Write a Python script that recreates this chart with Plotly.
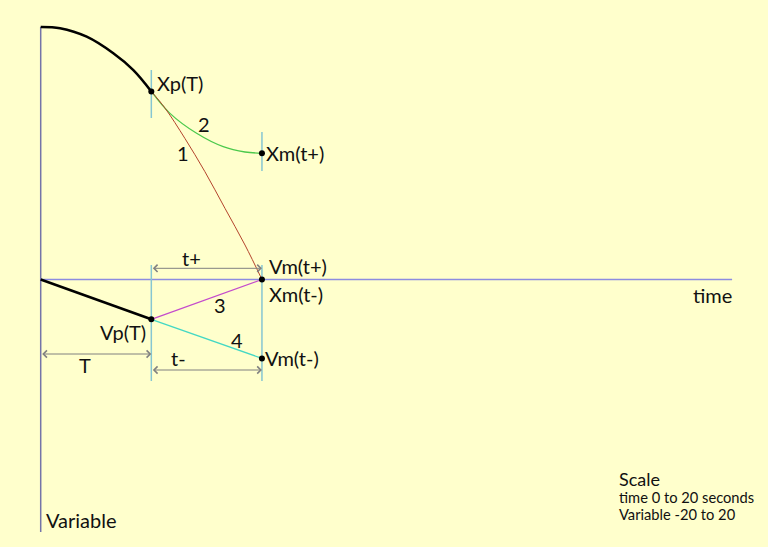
import plotly.graph_objects as go

W, H = 768, 547
# pixel calibration of the drawing (used only to place text/guides)
X0_PX, X_SCALE = 40.7, 34.57
Y0_PX, Y_SCALE = 279.5, 12.625


def dx(px):
    return (px - X0_PX) / X_SCALE


def dy(py):
    return (Y0_PX - py) / Y_SCALE


# ---------------- data ----------------
time_axis = [0, 20]            # time 0 to 20 seconds
variable_axis = [-20, 20]      # Variable -20 to 20

T_VALUE = 3.2                  # T
T_PLUS = 6.4                   # end of t+ / t- interval

Xp_T = 14.9
Xm_tplus = 10.0
Vm_tplus = 0.0
Vp_T = -3.15
Vm_tminus = -6.25

pos_t = [0, 0.56, 1.33, 2.1, 2.68, 3.2]
pos_x = [20, 19.9, 19.23, 17.92, 16.59, 14.9]

path1_t = [3.2, 3.6, 4.17, 4.75, 5.33, 5.91, 6.4]
path1_x = [14.9, 13.56, 11.18, 8.54, 5.64, 2.73, 0.0]

path2_t = [3.2, 3.74, 4.51, 5.28, 5.91, 6.4]
path2_x = [14.9, 13.16, 11.58, 10.52, 10.1, 10.0]

vel_t = [0, 3.2]
vel_v = [0, -3.15]

path3_t = [3.2, 6.4]
path3_v = [-3.15, 0.0]

path4_t = [3.2, 6.4]
path4_v = [-3.15, -6.25]

# ---------------- figure ----------------
BG = "#FFFFCC"
CYAN = "#86C6D2"
FONT = "Lato"

fig = go.Figure()


def line(x, y, color, width, shape="linear"):
    fig.add_trace(go.Scatter(x=x, y=y, mode="lines",
                             line=dict(color=color, width=width, shape=shape),
                             hoverinfo="skip"))


# axes
line([0, 0], variable_axis, "#7474A8", 1.5)
line(time_axis, [0, 0], "#8C8CE0", 1.5)

# cyan guide ticks
line([T_VALUE, T_VALUE], [dy(70), dy(118)], CYAN, 1.5)
line([T_PLUS, T_PLUS], [dy(132), dy(171)], CYAN, 1.5)
line([T_VALUE, T_VALUE], [dy(265), dy(381)], CYAN, 1.5)
line([T_PLUS, T_PLUS], [dy(265), dy(381)], CYAN, 1.5)

# curves
line(path2_t, path2_x, "#4CC94C", 1.3, "spline")
line(path1_t, path1_x, "#B4442C", 1.0, "spline")
line(pos_t, pos_x, "#000000", 2.5, "spline")
line(vel_t, vel_v, "#000000", 2.5)
line(path3_t, path3_v, "#C44CCC", 1.3)
line(path4_t, path4_v, "#44D8C4", 1.3)

# points
fig.add_trace(go.Scatter(
    x=[T_VALUE, T_PLUS, T_PLUS, T_VALUE, T_PLUS],
    y=[Xp_T, Xm_tplus, Vm_tplus, Vp_T, Vm_tminus],
    mode="markers", marker=dict(color="black", size=6), hoverinfo="skip"))


# double-headed grey arrows
def harrow(x0, x1, y):
    fig.add_annotation(x=x1, y=y, ax=x0, ay=y, xref="x", yref="y",
                       axref="x", ayref="y", text="", showarrow=True,
                       arrowhead=4, startarrowhead=4, arrowside="end+start",
                       arrowsize=1.4, startarrowsize=1.4, arrowwidth=1,
                       arrowcolor="#808080", standoff=0, startstandoff=0)


harrow(T_VALUE, T_PLUS, dy(268.3))
harrow(T_VALUE, T_PLUS, dy(370))
harrow(0, T_VALUE, dy(354))


def label(text, xpx, ypx, size=20, anchor="left"):
    fig.add_annotation(x=dx(xpx), y=dy(ypx), xref="x", yref="y", text=text,
                       showarrow=False, xanchor=anchor, yanchor="middle",
                       font=dict(family=FONT, size=size, color="#111111"))


label("Xp(T)", 155, 83)
label("Xm(t+)", 264, 153)
label("Vm(t+)", 267, 266)
label("Xm(t-)", 267, 294)
label("Vp(T)", 148, 332, anchor="right")
label("Vm(t-)", 263, 358)
label("1", 183, 153, anchor="center")
label("2", 204, 124, anchor="center")
label("3", 220, 305, anchor="center")
label("4", 237, 340, anchor="center")
label("t+", 191, 258, anchor="center")
label("t-", 178, 358, anchor="center")
label("T", 85, 365, anchor="center")
label("time", 734, 295, anchor="right")
label("Variable", 44, 520)
label("Scale", 617, 479, size=18)
label("time 0 to 20 seconds", 617, 497, size=14.7)
label("Variable -20 to 20", 617, 514, size=14.7)

fig.update_layout(
    width=W, height=H, margin=dict(l=0, r=0, t=0, b=0),
    paper_bgcolor=BG, plot_bgcolor=BG, showlegend=False,
    xaxis=dict(range=[dx(0), dx(W)], visible=False, fixedrange=True),
    yaxis=dict(range=[dy(H), dy(0)], visible=False, fixedrange=True),
)

fig.write_html(
    "out.html",
    config={"displayModeBar": False},
    post_script="document.body.style.margin='0';document.body.style.background='#FFFFCC';",
)
